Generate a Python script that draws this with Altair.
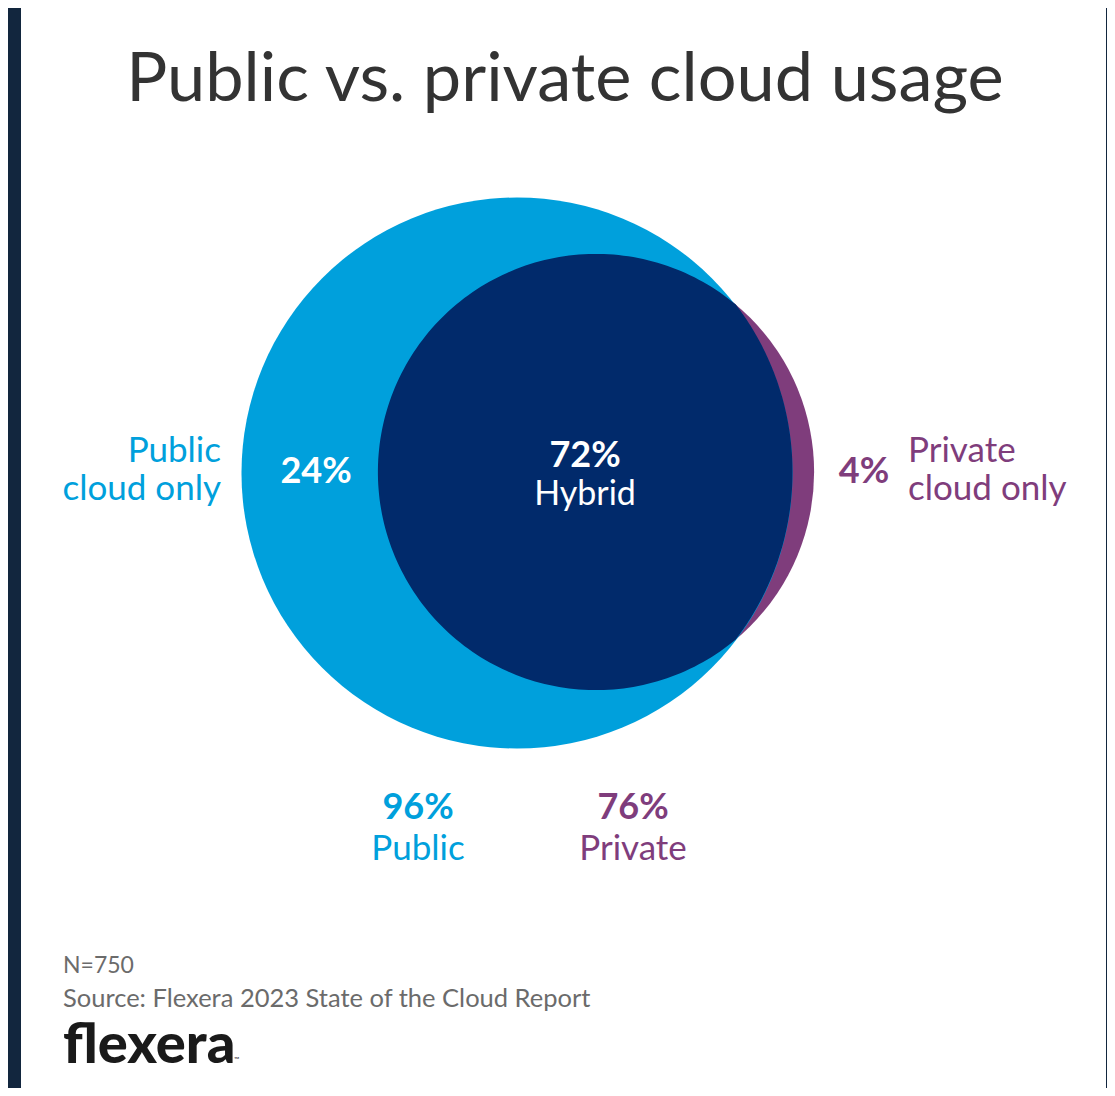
import numpy as np
import pandas as pd
import altair as alt

# ---------------- data ----------------
segments = ["Public", "Private"]
segment_pct = [96, 76]
segment_colors = ["#00a0dc", "#7f3d7c"]
hybrid_pct = 72
public_only_pct = 24
private_only_pct = 4
sample_n = 750

title_text = "Public vs. private cloud usage"
source_text = "Source: Flexera 2023 State of the Cloud Report"
brand_text = "flexera"

# ---------------- layout (page pixel units) ----------------
PX0, PX1 = 21, 1106      # white panel horizontal extent
PY0, PY1 = 8, 1088       # panel vertical extent
W, H = PX1 - PX0, PY1 - PY0
D100 = 574               # circle diameter for 100 %
centers = {"Public": (517, 473), "Private": (596, 472)}
NAVY = "#012a6b"
FONT = "Lato"

xs = alt.Scale(domain=[PX0, PX1])
ys = alt.Scale(domain=[PY0, PY1], reverse=True)
size_scale = alt.Scale(type="pow", exponent=2, domain=[0, 100], range=[0, D100 ** 2])

# circles
circ = pd.DataFrame({
    "seg": segments,
    "pct": segment_pct,
    "color": segment_colors,
    "cx": [centers[s][0] for s in segments],
    "cy": [centers[s][1] for s in segments],
    "order": [1, 0],
})
circ = circ.sort_values("order")

# lens (Hybrid) path in units of private-circle radius
r_priv = D100 * segment_pct[1] / 100 / 2
bx = (centers["Public"][0] - centers["Private"][0]) / r_priv
Rb = segment_pct[0] / segment_pct[1]
d = abs(bx)
a = (d * d + 1 - Rb * Rb) / (2 * d)      # signed distance toward public centre
ix = a * np.sign(bx)                      # intersection x (relative to private centre)
ih = np.sqrt(1 - a * a)
t0 = np.arctan2(-ih, ix)
t_priv = np.linspace(t0, -(2 * np.pi) - t0, 200)
pts = [(np.cos(t), np.sin(t)) for t in t_priv]
tb = np.arctan2(ih, ix - bx)
t_pub = np.linspace(tb, -tb, 140)
pts += [(bx + Rb * np.cos(t), Rb * np.sin(t)) for t in t_pub]
lens_path = "M" + " L".join(f"{x:.4f},{y:.4f}" for x, y in pts) + " Z"

circles = alt.Chart(circ).mark_point(
    shape="circle", filled=True, opacity=1, strokeWidth=0
).encode(
    x=alt.X("cx:Q", scale=xs, axis=None),
    y=alt.Y("cy:Q", scale=ys, axis=None),
    size=alt.Size("pct:Q", scale=size_scale, legend=None),
    color=alt.Color("color:N", scale=None),
    order=alt.Order("order:Q"),
)

lens_df = pd.DataFrame({"cx": [centers["Private"][0]], "cy": [centers["Private"][1]],
                        "pct": [segment_pct[1]]})
lens = alt.Chart(lens_df).mark_point(
    shape=lens_path, filled=True, opacity=1, strokeWidth=0, color=NAVY
).encode(
    x=alt.X("cx:Q", scale=xs, axis=None),
    y=alt.Y("cy:Q", scale=ys, axis=None),
    size=alt.Size("pct:Q", scale=size_scale, legend=None),
)


def text_layer(rows, size, weight="normal", align="center", color="#333333", line_height=None):
    df = pd.DataFrame(rows, columns=["label", "x", "y"])
    kw = dict(fontSize=size, fontWeight=weight, align=align, baseline="alphabetic",
              font=FONT, color=color, lineBreak="\n")
    if line_height:
        kw["lineHeight"] = line_height
    return alt.Chart(df).mark_text(**kw).encode(
        x=alt.X("x:Q", scale=xs, axis=None),
        y=alt.Y("y:Q", scale=ys, axis=None),
        text="label:N",
    )


blue, purple = segment_colors
layers = [
    circles,
    lens,
    text_layer([(title_text, 565, 101)], 68.5, color="#333333"),
    text_layer([("Public\ncloud only", 221, 462)], 35, align="right", color=blue, line_height=38),
    text_layer([("Private\ncloud only", 908, 462)], 35, align="left", color=purple, line_height=38),
    text_layer([(f"{public_only_pct}%", 316, 483)], 36, weight="bold", color="white"),
    text_layer([(f"{hybrid_pct}%", 585, 467)], 36, weight="bold", color="white"),
    text_layer([("Hybrid", 585, 505)], 34, color="white"),
    text_layer([(f"{private_only_pct}%", 864, 483)], 36, weight="bold", color=purple),
    text_layer([(f"{segment_pct[0]}%", 418, 819)], 36, weight="bold", color=blue),
    text_layer([(segments[0], 418, 860)], 35, color=blue),
    text_layer([(f"{segment_pct[1]}%", 633, 819)], 36, weight="bold", color=purple),
    text_layer([(segments[1], 633, 860)], 35, color=purple),
    text_layer([(f"N={sample_n}", 63, 973)], 23, align="left", color="#6b6b6b"),
    text_layer([(source_text, 63, 1007)], 25.5, align="left", color="#6b6b6b"),
    text_layer([(brand_text, 63, 1063)], 56, weight=900, align="left", color="#1a1a1a"),
    text_layer([("™", 234, 1062)], 7, align="left", color="#1a1a1a"),
]

chart = alt.layer(*layers).properties(
    width=W, height=H,
    background="#12263e",
    padding={"left": PX0 - 8, "top": 0, "right": 1, "bottom": 0},
    autosize=alt.AutoSizeParams(type="none"),
).configure_view(fill="white", stroke=None)

chart.save("out.html", embed_options={"renderer": "svg", "actions": False})
